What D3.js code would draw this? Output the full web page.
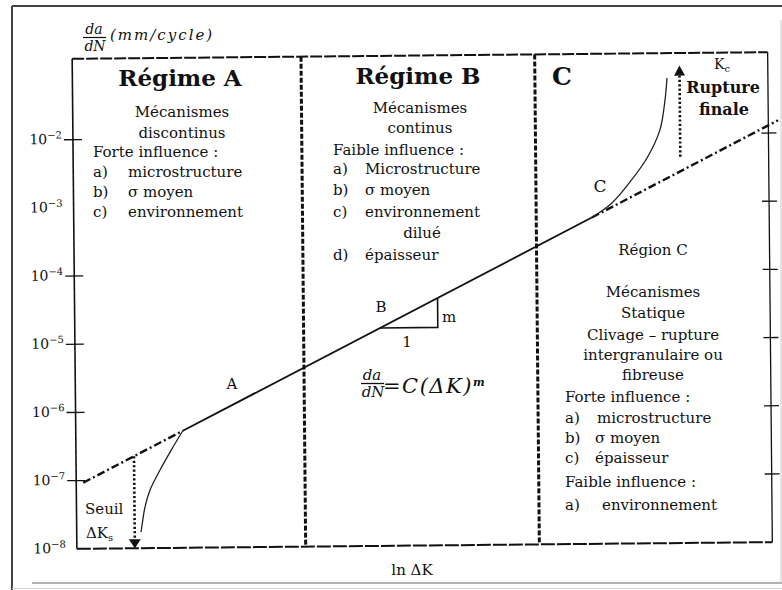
<!DOCTYPE html>
<html>
<head>
<meta charset="utf-8">
<script src="https://cdn.jsdelivr.net/npm/d3@7"></script>
<style>
  body { margin: 0; background: #fff; }
  svg { display: block; }
  text { font-family: "DejaVu Serif", serif; fill: #111; }
</style>
</head>
<body>
<script>
// Decades of da/dN (mm/cycle) labelled on the vertical axis
const rateExponents = [-2, -3, -4, -5, -6, -7, -8];
const leftTickExponents = [-2, -4, -5, -6, -7];
const rightTickExponents = [-2, -3, -4, -5, -6, -7];

// Straight Paris-law line: ln ΔK and da/dN at its breakpoints
const parisLnK = [0.10, 1.54, 7.45, 10.14];
const parisRate = [9.3e-8, 5.2e-7, 6.1e-4, 1.53e-2];

// Near-threshold curve (regime A)
const thresholdLnK = [0.925, 0.945, 0.985, 1.06, 1.206, 1.37, 1.54];
const thresholdRate = [1.73e-8, 2.34e-8, 4.0e-8, 7.1e-8, 1.39e-7, 2.72e-7, 5.2e-7];

// Unstable growth curve toward Kc (regime C)
const fractureLnK = [7.45, 7.741, 8.003, 8.251, 8.441, 8.518, 8.549];
const fractureRate = [6.1e-4, 9.9e-4, 2.0e-3, 4.47e-3, 1.15e-2, 3.16e-2, 6.6e-2];

// Regime boundaries on ln ΔK
const regimeBounds = [3.29, 6.65];

// Arrows: ln ΔK, starting rate, ending rate
const thresholdArrow = [0.834, 2.23e-7, 1e-8];
const ruptureArrow = [8.73, 4.6e-3, 1.0e-1];

// Slope triangle resting on the Paris line
const slopeLnK = [4.39, 5.22];
const slopeRate = [1.57e-5, 4.25e-5];

const W = 782, H = 590;
const svg = d3.select("body").append("svg").attr("width", W).attr("height", H);

// page border
svg.append("line").attr("x1", 12).attr("y1", 6).attr("x2", W).attr("y2", 6)
  .attr("stroke", "#444").attr("stroke-width", 2);
svg.append("line").attr("x1", 12).attr("y1", 6).attr("x2", 12).attr("y2", H)
  .attr("stroke", "#444").attr("stroke-width", 2);
svg.append("line").attr("x1", 32).attr("y1", 583).attr("x2", W).attr("y2", 583)
  .attr("stroke", "#999").attr("stroke-width", 1.5);
svg.append("line").attr("x1", 12).attr("y1", 588.5).attr("x2", W).attr("y2", 588.5)
  .attr("stroke", "#d4d4d4").attr("stroke-width", 1);
svg.append("line").attr("x1", 781).attr("y1", 20).attr("x2", 781).attr("y2", 583)
  .attr("stroke", "#c8c8c8").attr("stroke-width", 1);

const x = d3.scaleLinear().domain([0, 10]).range([74.5, 770]);
const y = d3.scaleLog().domain([1e-8, 0.153]).range([545.5, 55.5]);

const g = svg.append("g").attr("transform", "rotate(-0.55 422 300)");
const ink = "#111";

// plot frame
const [yb, yt] = y.range();
const [xl, xr] = x.range();
g.append("line").attr("x1", xl).attr("y1", yt).attr("x2", xl).attr("y2", yb)
  .attr("stroke", ink).attr("stroke-width", 1.6);
g.append("line").attr("x1", xl).attr("y1", yt).attr("x2", xr).attr("y2", yt)
  .attr("stroke", ink).attr("stroke-width", 2).attr("stroke-dasharray", "12,2");
g.append("line").attr("x1", xr).attr("y1", yt).attr("x2", xr).attr("y2", yb)
  .attr("stroke", ink).attr("stroke-width", 1.3);
g.append("line").attr("x1", xl).attr("y1", yb).attr("x2", xr).attr("y2", yb)
  .attr("stroke", ink).attr("stroke-width", 2).attr("stroke-dasharray", "14,2");

// ticks crossing the left and right edges
g.selectAll(".tl").data(leftTickExponents).join("line")
  .attr("x1", xl - 9).attr("x2", xl + 9)
  .attr("y1", e => y(Math.pow(10, e))).attr("y2", e => y(Math.pow(10, e)))
  .attr("stroke", ink).attr("stroke-width", 1.3);
g.selectAll(".tr").data(rightTickExponents).join("line")
  .attr("x1", xr - 7).attr("x2", xr + 8)
  .attr("y1", e => y(Math.pow(10, e))).attr("y2", e => y(Math.pow(10, e)))
  .attr("stroke", ink).attr("stroke-width", 1.3);

// decade labels 10^n
const lab = g.selectAll(".yl").data(rateExponents).join("text")
  .attr("x", xl - 11).attr("y", e => y(Math.pow(10, e)))
  .attr("dy", "0.3em").attr("text-anchor", "end").style("font-size", "14px");
lab.append("tspan").text("10");
lab.append("tspan").attr("dy", "-0.55em").style("font-size", "10px").text(e => "\u2212" + Math.abs(e));

// regime boundaries
g.selectAll(".div").data(regimeBounds).join("line")
  .attr("x1", d => x(d)).attr("x2", d => x(d)).attr("y1", yt).attr("y2", yb)
  .attr("stroke", ink).attr("stroke-width", 3).attr("stroke-dasharray", "5,2");

// Paris line: dash-dot at both ends, solid across the linear regime
const seg = d3.line().x(d => x(d[0])).y(d => y(d[1]));
for (let i = 0; i < parisLnK.length - 1; i++) {
  const pts = [[parisLnK[i], parisRate[i]], [parisLnK[i + 1], parisRate[i + 1]]];
  const p = g.append("path").attr("d", seg(pts)).attr("fill", "none").attr("stroke", ink);
  if (i === 1) p.attr("stroke-width", 1.8);
  else p.attr("stroke-width", 2.4).attr("stroke-dasharray", "8,3,2,3");
}

// threshold and fracture curves
const smooth = d3.line().x(d => x(d[0])).y(d => y(d[1])).curve(d3.curveCatmullRom.alpha(0.5));
g.append("path").attr("d", smooth(d3.zip(thresholdLnK, thresholdRate)))
  .attr("fill", "none").attr("stroke", "#222").attr("stroke-width", 1.3);
g.append("path").attr("d", smooth(d3.zip(fractureLnK, fractureRate)))
  .attr("fill", "none").attr("stroke", "#222").attr("stroke-width", 1.3);

// dotted arrows
function arrow([k, r0, r1], headLen, halfW) {
  const ax = x(k), y0 = y(r0), y1 = y(r1);
  const dir = y1 > y0 ? 1 : -1;
  const base = y1 - dir * headLen;
  g.append("line").attr("x1", ax).attr("x2", ax).attr("y1", y0).attr("y2", base)
    .attr("stroke", ink).attr("stroke-width", 2.6).attr("stroke-dasharray", "2.2,2.2");
  g.append("path")
    .attr("d", `M${ax - halfW},${base}L${ax + halfW},${base}L${ax},${y1}Z`)
    .attr("fill", ink);
}
arrow(thresholdArrow, 9, 6);
arrow(ruptureArrow, 10, 5.5);

// slope triangle
g.append("path")
  .attr("d", `M${x(slopeLnK[0])},${y(slopeRate[0])}H${x(slopeLnK[1])}V${y(slopeRate[1])}`)
  .attr("fill", "none").attr("stroke", ink).attr("stroke-width", 1.6);

// ---- annotations ----
function txt(s, px, py, opts = {}) {
  const t = svg.append("text").attr("x", px).attr("y", py)
    .attr("text-anchor", opts.anchor || "start")
    .style("font-size", (opts.size || 15) + "px");
  if (opts.bold) t.style("font-weight", "bold");
  if (opts.italic) t.style("font-style", "italic");
  if (opts.ls) t.style("letter-spacing", opts.ls + "px");
  t.text(s);
  return t;
}

// axis titles
txt("da", 94, 34, { anchor: "middle", italic: true, size: 14 });
svg.append("line").attr("x1", 83).attr("x2", 106).attr("y1", 37.5).attr("y2", 37.5)
  .attr("stroke", ink).attr("stroke-width", 1.2);
txt("dN", 95, 51, { anchor: "middle", italic: true, size: 14 });
txt("(mm/cycle)", 110, 40, { italic: true, size: 15, ls: 2 });
txt("ln \u0394K", 412, 575, { anchor: "middle", size: 15 });

// headings
txt("Régime A", 180, 86, { anchor: "middle", bold: true, size: 23 });
txt("Régime B", 418, 84, { anchor: "middle", bold: true, size: 23 });
txt("C", 562, 85, { anchor: "middle", bold: true, size: 25 });

// regime A text
const blockA = [
  ["Mécanismes", 182, 112, "middle"],
  ["discontinus", 182, 133, "middle"],
  ["Forte influence :", 93, 152, "start"],
  ["a)", 93, 172, "start"], ["microstructure", 128, 172, "start"],
  ["b)", 93, 192, "start"], ["\u03c3 moyen", 128, 192, "start"],
  ["c)", 93, 212, "start"], ["environnement", 128, 212, "start"]
];
// regime B text
const blockB = [
  ["Mécanismes", 420, 108, "middle"],
  ["continus", 420, 128, "middle"],
  ["Faible influence :", 333, 150, "start"],
  ["a)", 333, 169, "start"], ["Microstructure", 365, 169, "start"],
  ["b)", 333, 190, "start"], ["\u03c3 moyen", 365, 190, "start"],
  ["c)", 333, 212, "start"], ["environnement", 365, 212, "start"],
  ["dilué", 422, 233, "middle"],
  ["d)", 333, 255, "start"], ["épaisseur", 365, 255, "start"]
];
// region C text
const blockC = [
  ["Région C", 653, 250, "middle"],
  ["Mécanismes", 653, 292, "middle"],
  ["Statique", 653, 313, "middle"],
  ["Clivage \u2013 rupture", 653, 335, "middle"],
  ["intergranulaire ou", 653, 355, "middle"],
  ["fibreuse", 653, 375, "middle"],
  ["Forte influence :", 565, 397, "start"],
  ["a)", 565, 418, "start"], ["microstructure", 597, 418, "start"],
  ["b)", 565, 438, "start"], ["\u03c3 moyen", 595, 438, "start"],
  ["c)", 565, 458, "start"], ["épaisseur", 595, 458, "start"],
  ["Faible influence :", 565, 482, "start"],
  ["a)", 565, 505, "start"], ["environnement", 602, 505, "start"]
];
[...blockA, ...blockB, ...blockC].forEach(([s, px, py, a]) =>
  txt(s, px, py, { anchor: a, size: 15 }).attr("dy", "0.35em"));

// curve labels
txt("A", 232, 384, { anchor: "middle", size: 15 }).attr("dy", "0.35em");
txt("B", 381, 307, { anchor: "middle", size: 15 }).attr("dy", "0.35em");
txt("m", 449, 317, { anchor: "middle", size: 15 }).attr("dy", "0.35em");
txt("1", 407, 342, { anchor: "middle", size: 15 }).attr("dy", "0.35em");
txt("C", 600, 186, { anchor: "middle", size: 17 }).attr("dy", "0.35em");

// threshold label
txt("Seuil", 85, 509, { size: 15 }).attr("dy", "0.35em");
const dk = txt("\u0394K", 86, 533, { size: 15 }).attr("dy", "0.35em");
dk.append("tspan").attr("dy", "0.3em").style("font-size", "10px").text("s");

// final fracture label
const kc = txt("K", 714, 69, { size: 14 });
kc.append("tspan").attr("dy", "0.3em").style("font-size", "10px").text("c");
txt("Rupture", 723, 93, { anchor: "middle", bold: true, size: 16 });
txt("finale", 724, 115, { anchor: "middle", bold: true, size: 16 });

// Paris law formula
txt("da", 372, 380, { anchor: "middle", italic: true, size: 15 });
svg.append("line").attr("x1", 361).attr("x2", 384).attr("y1", 383.5).attr("y2", 383.5)
  .attr("stroke", ink).attr("stroke-width", 1.3);
txt("dN", 373, 397, { anchor: "middle", italic: true, size: 15 });
const law = txt("=C(\u0394K)", 383, 393, { italic: true, size: 21, ls: 1.5 });
law.append("tspan").attr("dy", "-0.6em").style("font-size", "11px").style("font-weight", "bold").text("m");
</script>
</body>
</html>
